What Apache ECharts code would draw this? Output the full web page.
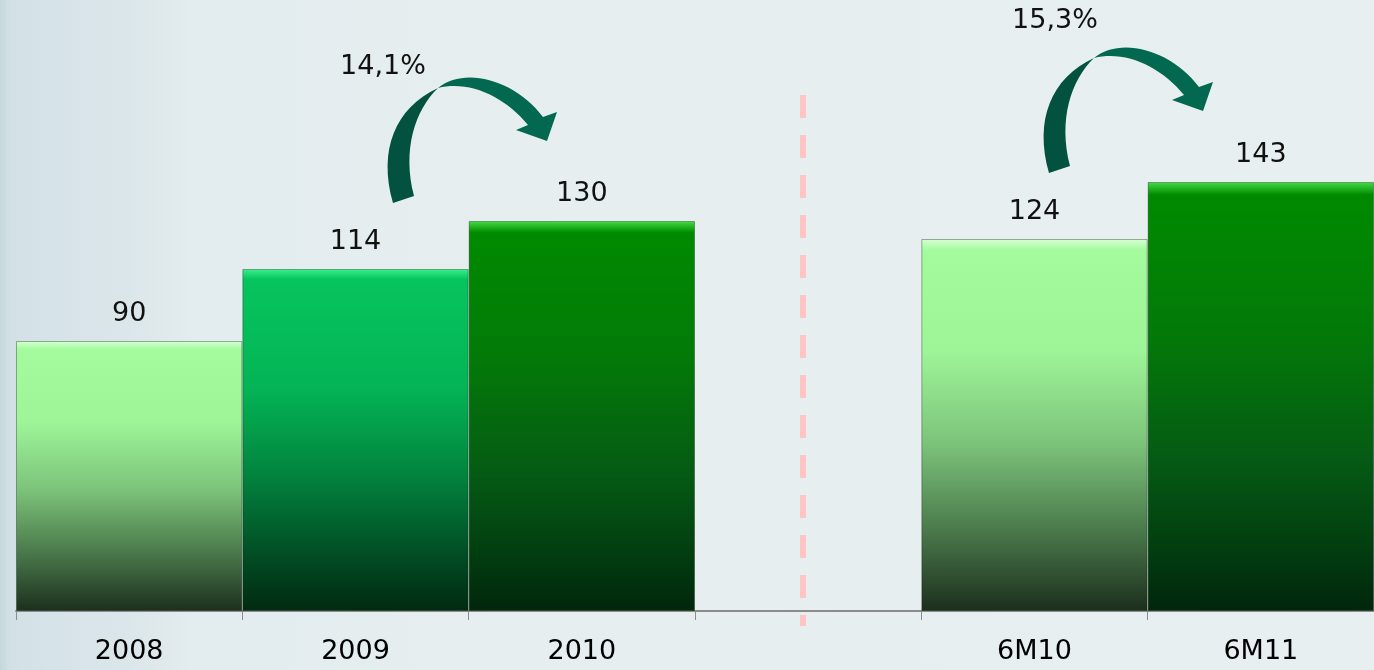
<!DOCTYPE html>
<html>
<head>
<meta charset="utf-8">
<script src="https://cdn.jsdelivr.net/npm/echarts@6/dist/echarts.min.js"></script>
<style>html,body{margin:0;padding:0;}#c{width:1374px;height:670px;}</style>
</head>
<body>
<div id="c"></div>
<script>
const categories = ['2008', '2009', '2010', '', '6M10', '6M11'];
const values = [90, 114, 130, null, 124, 143];
const growthLabels = ['14,1%', '15,3%'];

const FONT = 'DejaVu Sans';
function grad(stops) {
  return new echarts.graphic.LinearGradient(0, 0, 0, 1, stops.map(s => ({offset: s[0], color: s[1]})));
}
const lightG = () => grad([[0,'#d8ffd4'],[0.03,'#a4fb9e'],[0.3,'#9ef598'],[0.55,'#7cc37a'],[0.78,'#4b7a4c'],[1,'#1c2f1d']]);
const midG = () => grad([[0,'#3cf08c'],[0.03,'#06c45e'],[0.35,'#04b456'],[0.6,'#02843e'],[0.85,'#014a22'],[1,'#012a12']]);
const darkG = () => grad([[0,'#44dd44'],[0.03,'#008a00'],[0.35,'#037a08'],[0.65,'#055a14'],[0.85,'#023e10'],[1,'#01260c']]);
const fills = [lightG, midG, darkG, lightG, lightG, darkG];

const barData = values.map((v, i) => ({
  value: v,
  itemStyle: { color: fills[i](), borderColor: 'rgba(0,30,0,0.35)', borderWidth: 1 }
}));

const arrowTail = 'M 393 203 C 378 150, 395 108, 438 88 C 415 110, 402 150, 414 196 Z';
const arrowHead = 'M 438 88 C 465 66, 515 80, 543 117 L 557 112 L 547 141 L 516 130 L 528 125 C 505 97, 470 80, 438 88 Z';
echarts.graphic.registerShape('arrowTail', echarts.graphic.extendPath(arrowTail, {}));
echarts.graphic.registerShape('arrowHead', echarts.graphic.extendPath(arrowHead, {}));

const chart = echarts.init(document.getElementById('c'));
chart.setOption({
  backgroundColor: new echarts.graphic.LinearGradient(0, 0, 1, 0, [
    {offset: 0, color: '#c5d8dd'}, {offset: 0.008, color: '#d3e1e6'},
    {offset: 0.09, color: '#dbe6ea'}, {offset: 0.14, color: '#e3ecee'},
    {offset: 0.4, color: '#e6eef0'}, {offset: 1, color: '#e7eff1'}
  ]),
  animation: false,
  grid: { left: 16, right: -4, top: 11, bottom: 59, containLabel: false },
  xAxis: {
    type: 'category',
    data: categories,
    axisLine: { lineStyle: { color: '#8c8c8c', width: 2 } },
    axisTick: { show: true, length: 9, lineStyle: { color: '#8c8c8c', width: 1 } },
    axisLabel: { color: '#000', fontFamily: FONT, fontSize: 27, margin: 27 },
    splitLine: { show: false }
  },
  yAxis: { type: 'value', min: 0, max: 200, show: false, splitLine: { show: false } },
  series: [{
    type: 'bar',
    data: barData,
    barCategoryGap: '0%',
    label: { show: true, position: 'top', distance: 14, color: '#111', fontFamily: FONT, fontSize: 27 }
  }],
  graphic: [
    { type: 'line', z: 0, shape: { x1: 803, y1: 95, x2: 803, y2: 626 },
      style: { stroke: '#ffc4c4', lineWidth: 6, lineDash: [23, 17] } },
    { type: 'arrowTail', style: { fill: '#03523f' } },
    { type: 'arrowHead', style: { fill: '#036850' } },
    { type: 'arrowTail', x: 656, y: -30, style: { fill: '#03523f' } },
    { type: 'arrowHead', x: 656, y: -30, style: { fill: '#036850' } },
    { type: 'text', x: 383, y: 67, style: { text: growthLabels[0], fill: '#111', font: '27px "DejaVu Sans"', textAlign: 'center', textVerticalAlign: 'middle' } },
    { type: 'text', x: 1055, y: 21, style: { text: growthLabels[1], fill: '#111', font: '27px "DejaVu Sans"', textAlign: 'center', textVerticalAlign: 'middle' } }
  ]
});
</script>
</body>
</html>
